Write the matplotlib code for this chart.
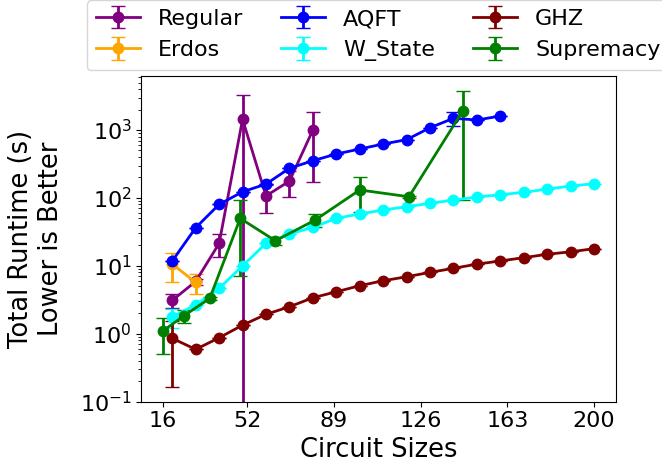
import matplotlib
matplotlib.use("Agg")
import matplotlib.pyplot as plt

# circuit sizes and runtimes (s)
regular_x = [20, 30, 40, 50, 60, 70, 80]
regular_y = [3.1, 5.9, 21.4, 1437, 107, 177, 1000]
regular_err = [0.7, 0.6, 8, 1840, 48, 73, 830]

erdos_x = [20, 30]
erdos_y = [10.6, 5.7]
erdos_err = [4.8, 1.8]

aqft_x = [20, 30, 40, 50, 60, 70, 80, 90, 100, 110, 120, 130, 140, 150, 160]
aqft_y = [11.8, 36.4, 80.4, 123, 160, 273, 353, 443, 525, 622, 720, 1081, 1487, 1404, 1607]
aqft_err = [0, 0, 0, 0, 0, 0, 0, 0, 0, 0, 0, 0, 350, 0, 0]

wstate_x = [20, 30, 40, 50, 60, 70, 80, 90, 100, 110, 120, 130, 140, 150, 160, 170, 180, 190, 200]
wstate_y = [1.78, 2.65, 4.66, 10.0, 21.4, 29.4, 36.9, 50, 58, 66.4, 74.2, 83.2, 93.1, 103, 111.5,
            120.8, 135, 149.6, 162]
wstate_err = [0.55, 0, 0, 0, 0, 0, 0, 0, 0, 0, 0, 0, 0, 0, 0, 0, 0, 0, 0]

ghz_x = [20, 30, 40, 50, 60, 70, 80, 90, 100, 110, 120, 130, 140, 150, 160, 170, 180, 190, 200]
ghz_y = [0.855, 0.589, 0.873, 1.34, 1.93, 2.50, 3.39, 4.15, 5.10, 6.04, 6.90, 8.02, 9.19, 10.6,
         11.8, 13.2, 14.8, 16.1, 17.9]
ghz_err = [0.69, 0, 0, 0, 0, 0, 0, 0, 0, 0, 0, 0, 0, 0, 0, 0, 0, 0, 0]

sup_x = [16, 25, 36, 49, 64, 81, 100, 121, 144]
sup_y = [1.10, 1.84, 3.32, 50, 23.4, 47.3, 131, 104, 1923]
sup_err = [0.6, 0.4, 0.2, 43, 3, 10, 70, 3, 1830]

series = [
    ("Regular", regular_x, regular_y, regular_err, "purple"),
    ("Erdos", erdos_x, erdos_y, erdos_err, "orange"),
    ("AQFT", aqft_x, aqft_y, aqft_err, "blue"),
    ("W_State", wstate_x, wstate_y, wstate_err, "cyan"),
    ("GHZ", ghz_x, ghz_y, ghz_err, "maroon"),
    ("Supremacy", sup_x, sup_y, sup_err, "green"),
]

xticks = [16, 52, 89, 126, 163, 200]

fig = plt.figure(figsize=(6.62, 4.72), dpi=100)
ax = fig.add_axes([0.2135, 0.149, 0.7165, 0.6906])

for name, x, y, err, color in series:
    ax.errorbar(x, y, yerr=err, label=name, color=color, marker="o",
                markersize=7.5, linewidth=2, capsize=5)

ax.set_yscale("log")
ax.set_ylim(0.1, 6300)
ax.set_xticks(xticks)
ax.tick_params(labelsize=16)
ax.set_xlabel("Circuit Sizes", fontsize=18.5)
ax.set_ylabel("Total Runtime (s)\nLower is Better", fontsize=18.5, labelpad=11)

fig.legend(loc="upper center", bbox_to_anchor=(0.571, 1.023), ncol=3, fontsize=16,
           columnspacing=1.7)

plt.savefig("out.png")
plt.close()
